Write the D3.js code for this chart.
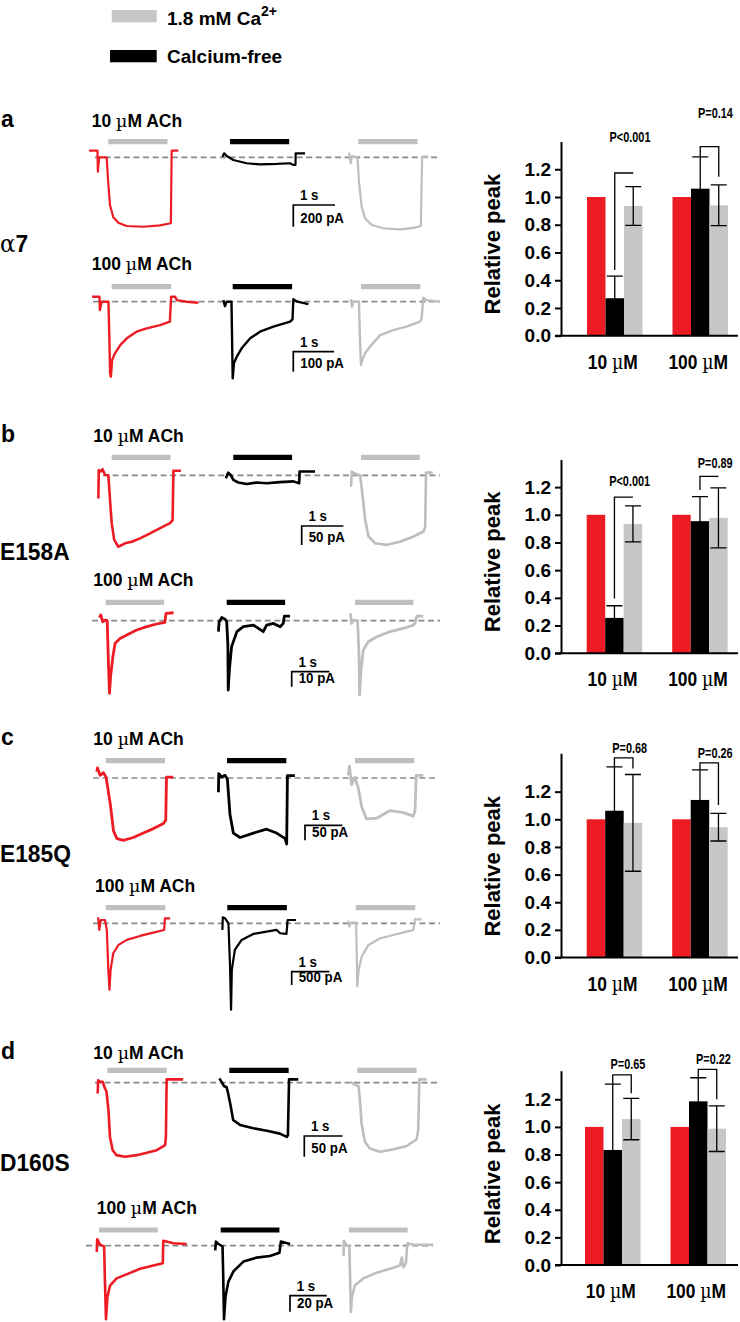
<!DOCTYPE html>
<html><head><meta charset="utf-8">
<script src="https://cdn.jsdelivr.net/npm/d3@7"></script>
<style>
body{margin:0;background:#fff;}
svg{display:block;font-family:"Liberation Sans",Arial,Helvetica,sans-serif;font-weight:bold;}
</style></head><body>
<svg id="fig" width="740" height="1322"></svg>
<script>
// ================= DATA =================
const legendLabels = ["1.8 mM Ca", "Calcium-free"];
const legendSup = "2+";
const panelLetters = ["a", "b", "c", "d"];
const receptors = ["α7", "E158A", "E185Q", "D160S"];
const concLabels = ["10 µM", "100 µM"];
const conditions = ["Ca", "free", "wash"];
const yTickValues = [0, 0.2, 0.4, 0.6, 0.8, 1.0, 1.2];
const yTitle = "Relative peak";

// relative peak [conc][condition] and error
const peakA = [[1.0, 0.27, 0.935], [1.0, 1.06, 0.94]];
const errA  = [[0, 0.16, 0.14], [0, 0.23, 0.147]];
const peakB = [[1.0, 0.255, 0.934], [1.0, 0.954, 0.978]];
const errB  = [[0, 0.088, 0.13], [0, 0.178, 0.217]];
const peakC = [[1.0, 1.062, 0.974], [1.0, 1.14, 0.943]];
const errC  = [[0, 0.317, 0.35], [0, 0.218, 0.10]];
const peakD = [[1.0, 0.833, 1.057], [1.0, 1.185, 0.987]];
const errD  = [[0, 0.477, 0.15], [0, 0.171, 0.165]];
const pLabelsA = ["P<0.001", "P=0.14"];
const pLabelsB = ["P<0.001", "P=0.89"];
const pLabelsC = ["P=0.68", "P=0.26"];
const pLabelsD = ["P=0.65", "P=0.22"];

// ACh application duration (s) and scale bar amplitude (pA) per recording row
const rowConc = ["10 µM ACh", "100 µM ACh", "10 µM ACh", "100 µM ACh", "10 µM ACh", "100 µM ACh", "10 µM ACh", "100 µM ACh"];
const appDur = [1.42, 1.46, 1.41, 1.55, 1.59, 1.58, 1.55, 1.6];
const scaleBarSec = 1;
const scaleBarPA = [200, 100, 50, 10, 50, 500, 50, 20];

// current traces: [time from ACh onset (s), current (pA)]
const trA10Ca   = [[-0.46,61],[-0.26,61],[-0.25,-133],[-0.22,0],[-0.04,0],[0,-240],[0.04,-440],[0.12,-553],[0.24,-603],[0.44,-633],[0.84,-640],[1.24,-627],[1.50,-608],[1.52,61],[1.68,61]];
const trA10Free = [[-0.18,6],[-0.14,37],[-0.08,12],[0.08,-25],[0.40,-55],[0.72,-65],[1.12,-61],[1.44,-55],[1.52,-71],[1.57,-71],[1.575,37],[1.80,37]];
const trA10Wash = [[-0.22,43],[-0.18,-55],[-0.15,12],[-0.02,0],[0.02,-240],[0.08,-455],[0.16,-562],[0.32,-624],[0.60,-654],[1.00,-664],[1.32,-651],[1.50,-633],[1.53,6],[1.68,6]];
const trA100Ca   = [[-0.48,25],[-0.30,25],[-0.29,-42],[-0.25,0],[-0.08,0],[-0.06,-158],[-0.04,-358],[-0.02,-375],[0.01,-292],[0.08,-258],[0.21,-217],[0.37,-183],[0.61,-150],[0.86,-133],[1.19,-117],[1.43,-100],[1.46,25],[1.56,25],[1.60,8],[1.84,0],[2.13,-5]];
const trA100Free = [[-0.23,8],[-0.19,-22],[-0.15,0],[-0.03,0],[0,-383],[0.03,-308],[0.10,-275],[0.22,-233],[0.43,-183],[0.67,-150],[1.00,-125],[1.41,-100],[1.47,-88],[1.49,12],[1.59,0],[1.86,-12]];
const trA100Wash = [[-0.25,12],[-0.22,-25],[-0.19,0],[-0.05,0],[-0.03,-158],[0,-317],[0.03,-292],[0.10,-258],[0.22,-225],[0.47,-167],[0.79,-142],[1.12,-125],[1.45,-100],[1.49,-83],[1.53,20],[1.61,8],[1.94,0]];

const trB10Ca   = [[-0.32,-61],[-0.31,14],[-0.26,10],[-0.22,16],[-0.16,1],[-0.08,0],[-0.04,-65],[0,-126],[0.06,-170],[0.16,-188],[0.32,-179],[0.48,-175],[0.68,-166],[0.92,-153],[1.16,-139],[1.40,-126],[1.46,-118],[1.48,12],[1.66,12]];
const trB10Free = [[-0.18,-8],[-0.12,7],[-0.06,1],[0,-12],[0.12,-19],[0.32,-23],[0.56,-19],[0.80,-21],[1.12,-18],[1.44,-16],[1.58,-21],[1.59,10],[1.96,10]];
const trB10Wash = [[-0.24,-30],[-0.22,10],[-0.14,4],[-0.02,0],[0.04,-56],[0.10,-117],[0.18,-161],[0.34,-179],[0.62,-183],[0.94,-175],[1.26,-161],[1.50,-148],[1.54,-135],[1.56,7],[1.72,7]];
const trB100Ca   = [[-0.17,2.2],[-0.13,3.8],[-0.08,-0.7],[-0.02,0.4],[0.04,0],[0.07,-26.2],[0.10,-48.4],[0.13,-37.3],[0.19,-24],[0.25,-15.1],[0.38,-11.8],[0.56,-9.5],[0.82,-6.2],[1.09,-4],[1.35,-2.2],[1.57,-1.1],[1.60,4.9],[1.80,5.3]];
const trB100Free = [[-0.22,-7.3],[-0.20,-0.7],[-0.13,2.2],[-0.04,0.9],[0,-0.7],[0.03,-15.1],[0.04,-46.2],[0.07,-32.9],[0.13,-17.3],[0.27,-7.3],[0.44,-4],[0.71,-2.9],[0.97,-7.3],[1.06,-2.9],[1.24,-1.8],[1.42,-4],[1.50,-1.8],[1.53,3.1],[1.68,3.1]];
const trB100Wash = [[-0.12,4.9],[-0.09,-1.8],[-0.04,0.4],[0.07,0],[0.11,-26.2],[0.12,-49.5],[0.16,-32.9],[0.22,-19.5],[0.35,-14],[0.58,-10.7],[0.93,-7.3],[1.28,-5.1],[1.55,-2.9],[1.59,-1.8],[1.64,3.1],[1.81,3.1]];

const trC10Ca   = [[-0.24,21],[-0.22,34],[-0.15,9],[-0.06,18],[0.01,3],[0.12,-85],[0.21,-179],[0.30,-205],[0.47,-211],[0.74,-201],[1.01,-186],[1.28,-171],[1.55,-154],[1.61,-142],[1.63,3],[1.81,3]];
const trC10Free = [[-0.23,-48],[-0.22,15],[-0.14,3],[-0.05,9],[0.01,-4],[0.08,-123],[0.17,-186],[0.35,-201],[0.71,-186],[1.06,-173],[1.33,-186],[1.56,-205],[1.60,-223],[1.62,8],[1.82,8]];
const trC10Wash = [[-0.18,9],[-0.15,40],[-0.09,-23],[0,3],[0.09,-35],[0.18,-98],[0.31,-138],[0.58,-136],[0.94,-110],[1.30,-117],[1.56,-129],[1.61,-110],[1.64,9],[1.83,9]];
const trC100Ca   = [[-0.20,225],[-0.17,-250],[-0.13,125],[-0.02,125],[0.03,-250],[0.07,-1750],[0.10,-2500],[0.13,-1750],[0.20,-1125],[0.34,-813],[0.56,-625],[0.91,-475],[1.26,-350],[1.55,-250],[1.57,188],[1.71,188]];
const trC100Free = [[-0.13,-250],[-0.12,225],[-0.06,188],[0.03,0],[0.07,-1500],[0.10,-3250],[0.12,-1750],[0.20,-1000],[0.38,-625],[0.69,-400],[1.04,-313],[1.31,-250],[1.40,-375],[1.57,-400],[1.60,125],[1.82,125]];
const trC100Wash = [[-0.20,100],[-0.17,-125],[-0.13,25],[0.01,25],[0.03,-1250],[0.04,-2375],[0.08,-1750],[0.16,-1250],[0.34,-813],[0.65,-563],[1.00,-438],[1.35,-313],[1.53,-250],[1.57,150],[1.75,150]];

const trD10Ca   = [[-0.25,-26],[-0.24,6],[-0.19,2],[-0.12,2],[-0.06,-14],[-0.02,-22],[0.03,-66],[0.07,-131],[0.14,-163],[0.24,-175],[0.46,-179],[0.77,-175],[1.03,-169],[1.29,-163],[1.51,-151],[1.53,-131],[1.55,8],[1.98,8]];
const trD10Free = [[-0.26,10],[-0.20,2],[-0.14,-8],[-0.07,-11],[-0.03,-26],[0.04,-58],[0.10,-90],[0.28,-102],[0.63,-110],[0.98,-116],[1.32,-123],[1.50,-131],[1.53,-127],[1.56,8],[1.80,8]];
const trD10Wash = [[-0.19,2],[-0.10,-3],[0.03,-8],[0.07,-42],[0.11,-98],[0.20,-143],[0.33,-159],[0.59,-167],[0.94,-161],[1.29,-153],[1.55,-137],[1.59,-114],[1.62,8],[1.81,8]];
const trD100Ca   = [[-0.06,-8],[-0.05,8],[0.03,1],[0.14,-1],[0.16,-41],[0.19,-92],[0.23,-64],[0.30,-50],[0.48,-41],[0.75,-36],[1.12,-29],[1.48,-25],[1.74,-22],[1.75,6],[2.03,3],[2.39,2]];
const trD100Free = [[-0.15,-6],[-0.13,5],[-0.06,2],[0.05,-1],[0.07,-41],[0.09,-92],[0.13,-64],[0.21,-45],[0.35,-32],[0.62,-20],[0.98,-15],[1.34,-13],[1.60,-9],[1.64,5],[1.89,2]];
const trD100Wash = [[-0.15,-13],[-0.14,6],[-0.06,0],[0.01,-1],[0.03,-41],[0.05,-83],[0.08,-64],[0.16,-50],[0.39,-41],[0.75,-34],[1.12,-29],[1.39,-25],[1.44,-15],[1.48,-27],[1.55,-22],[1.59,3],[1.75,1],[2.30,1]];

// ================= LAYOUT / STYLE =================
const RED = "#ED1C24", GRAY_TR = "#BDBEC0", GRAY_BAR = "#C6C7C9", APP_GRAY = "#BEBFC1";
const condColor = [RED, "#000", GRAY_TR];
const barColor = [RED, "#000", GRAY_BAR];

const traceRows = [
  [trA10Ca, trA10Free, trA10Wash], [trA100Ca, trA100Free, trA100Wash],
  [trB10Ca, trB10Free, trB10Wash], [trB100Ca, trB100Free, trB100Wash],
  [trC10Ca, trC10Free, trC10Wash], [trC100Ca, trC100Free, trC100Wash],
  [trD10Ca, trD10Free, trD10Wash], [trD100Ca, trD100Free, trD100Wash]
];
const traceWidth = [2.2, 2.4, 2.6, 2.8, 2.8, 2.2, 2.6, 2.6];
const rowLayout = [
  {lx:91.7, ly:126.7, barY:141.7, x0:[108.3,230,358.3], dashY:157.3, dashX:[95,440], pxps:41.7, sbX:293.3, sbY:205, sbPx:21.7},
  {lx:91.7, ly:270,   barY:286.7, x0:[111.7,232.7,361], dashY:301.7, dashX:[93,440], pxps:40.7, sbX:293.3, sbY:351.7, sbPx:20},
  {lx:93.3, ly:441.7, barY:457.3, x0:[111.7,233.3,361], dashY:475.3, dashX:[103,440], pxps:41.7, sbX:301.7, sbY:526, sbPx:19},
  {lx:93.3, ly:586,   barY:602.3, x0:[105.7,226.7,355], dashY:620.7, dashX:[92,440], pxps:37.7, sbX:291.7, sbY:671.7, sbPx:15},
  {lx:93.3, ly:745,   barY:760.7, x0:[105.7,227,355],   dashY:778,   dashX:[93,437], pxps:37.3, sbX:305, sbY:825.4, sbPx:14.8},
  {lx:95,   ly:891.7, barY:907.7, x0:[105.7,227.3,355.7], dashY:923.3, dashX:[93,440], pxps:37.7, sbX:291.7, sbY:971.7, sbPx:13.3},
  {lx:93.3, ly:1059.3, barY:1070.3, x0:[107.3,229.3,357.3], dashY:1082.7, dashX:[95,440], pxps:38.3, sbX:304.3, sbY:1136, sbPx:20.7},
  {lx:96.7, ly:1214.4, barY:1230, x0:[99,220.7,349], dashY:1245.6, dashX:[86,433], pxps:36.7, sbX:290, sbY:1295.7, sbPx:16}
];
const letterY = [126.7, 441.7, 745, 1059.3];
const receptorY = [252, 560, 862, 1171];

const chartPeaks = [peakA, peakB, peakC, peakD];
const chartErrs = [errA, errB, errC, errD];
const chartP = [pLabelsA, pLabelsB, pLabelsC, pLabelsD];
const chartLayout = [
  {base:335.7, unit:138.7, top:1.40, bx:587},
  {base:653.2, unit:138.4, top:1.40, bx:586.7},
  {base:957.5, unit:138.2, top:1.478, bx:586.7},
  {base:1265,  unit:138.1, top:1.407, bx:585}
];
const bracketLayout = [
  [{yH:1.173, y1:0.474, y2:null, ly:1.435}, {yH:1.363, y1:1.29, y2:1.146, ly:1.608}],
  [{yH:1.128, y1:0.395, y2:null, ly:1.246}, {yH:1.277, y1:1.179, y2:null, ly:1.375}],
  [{yH:1.444, y1:1.379, y2:1.367, ly:1.517}, {yH:1.408, y1:1.358, y2:1.103, ly:1.478}],
  [{yH:1.376, y1:1.31, y2:1.243, ly:1.455}, {yH:1.417, y1:1.356, y2:1.2, ly:1.492}]
];

// ================= DRAW =================
const svg = d3.select("#fig");

function txt(parent, x, y, str, size, o = {}) {
  const g = parent.append("g").attr("transform", `translate(${x},${y}) scale(${o.sx || 1},1)` + (o.rot ? ` rotate(${o.rot})` : ""));
  const t = g.append("text").attr("font-size", size).attr("fill", "#000")
    .attr("text-anchor", o.anchor || "start");
  if (o.dy) t.attr("dy", o.dy);
  str.split(/([µα])/).forEach(p => {
    if (!p) return;
    const s = t.append("tspan").text(p);
    if (p === "µ" || p === "α") s.attr("font-weight", "normal").attr("font-family", "'DejaVu Serif','Liberation Serif',serif");
  });
  return t;
}

// legend
svg.append("rect").attr("x", 111.7).attr("y", 10).attr("width", 45).attr("height", 12.3).attr("fill", GRAY_BAR);
const lt = txt(svg, 167, 25, legendLabels[0], 19);
lt.append("tspan").attr("dy", -9).attr("font-size", 14).text(legendSup);
svg.append("rect").attr("x", 110).attr("y", 50).attr("width", 46.7).attr("height", 12.3).attr("fill", "#000");
txt(svg, 167, 63.3, legendLabels[1], 19);

// panel letters & receptor names
panelLetters.forEach((l, i) => txt(svg, 1, letterY[i], l, 23));
receptors.forEach((r, i) => txt(svg, 0, receptorY[i], r, 24, {sx: 0.95}));

// traces
rowLayout.forEach((L, i) => {
  const g = svg.append("g");
  txt(g, L.lx, L.ly, rowConc[i], 17.5);
  g.append("line").attr("x1", L.dashX[0]).attr("x2", L.dashX[1]).attr("y1", L.dashY).attr("y2", L.dashY)
    .attr("stroke", "#8a8a8a").attr("stroke-width", 1.7).attr("stroke-dasharray", "6,3.6");
  traceRows[i].forEach((tr, c) => {
    const x = d3.scaleLinear().domain([0, 1]).range([L.x0[c], L.x0[c] + L.pxps]);
    const y = d3.scaleLinear().domain([0, -scaleBarPA[i]]).range([L.dashY, L.dashY + L.sbPx]);
    g.append("line").attr("x1", x(0)).attr("x2", x(appDur[i])).attr("y1", L.barY).attr("y2", L.barY)
      .attr("stroke", c === 1 ? "#000" : APP_GRAY).attr("stroke-width", 5.2);
    g.append("path").datum(tr)
      .attr("d", d3.line().x(d => x(d[0])).y(d => y(d[1])))
      .attr("fill", "none").attr("stroke", condColor[c]).attr("stroke-width", traceWidth[i])
      .attr("stroke-linejoin", "round");
  });
  const xs = d3.scaleLinear().domain([0, 1]).range([L.sbX, L.sbX + L.pxps]);
  const ys = d3.scaleLinear().domain([0, -scaleBarPA[i]]).range([L.sbY, L.sbY + L.sbPx]);
  g.append("path").attr("d", `M${xs(scaleBarSec)},${ys(0)}H${xs(0)}V${ys(-scaleBarPA[i])}`)
    .attr("fill", "none").attr("stroke", "#000").attr("stroke-width", 1.7);
  txt(g, L.sbX + 6.7, L.sbY - 5, scaleBarSec + " s", 14, {sx: 0.95});
  txt(g, L.sbX + 7, L.sbY + L.sbPx - 3.5, scaleBarPA[i] + " pA", 14, {sx: 0.95});
});

// bar charts
chartLayout.forEach((C, p) => {
  const g = svg.append("g");
  const y = d3.scaleLinear().domain([0, C.top]).range([C.base, C.base - C.unit * C.top]);
  const xg = d3.scaleBand().domain(concLabels).range([C.bx, C.bx + 141]).paddingInner(0.351).paddingOuter(0);
  const xc = d3.scaleBand().domain(conditions).range([0, xg.bandwidth()]).padding(0);
  const peaks = chartPeaks[p], errs = chartErrs[p];

  concLabels.forEach((cl, gi) => {
    conditions.forEach((cd, ci) => {
      const v = peaks[gi][ci];
      g.append("rect").attr("x", xg(cl) + xc(cd)).attr("width", xc.bandwidth())
        .attr("y", y(v)).attr("height", y(0) - y(v)).attr("fill", barColor[ci]);
    });
  });
  // error bars
  concLabels.forEach((cl, gi) => {
    conditions.forEach((cd, ci) => {
      const v = peaks[gi][ci], e = errs[gi][ci];
      if (!e) return;
      const cx = xg(cl) + xc(cd) + xc.bandwidth() / 2;
      const hw = 8;
      g.append("path").attr("d",
        `M${cx},${y(v - e)}V${y(v + e)}M${cx - hw},${y(v + e)}H${cx + hw}M${cx - hw},${y(v - e)}H${cx + hw}`)
        .attr("stroke", "#000").attr("stroke-width", 1.3).attr("fill", "none");
    });
  });
  // brackets + P labels
  concLabels.forEach((cl, gi) => {
    const B = bracketLayout[p][gi];
    const x1 = xg(cl) + xc("free") + xc.bandwidth() / 2;
    const x2 = xg(cl) + xc("wash") + xc.bandwidth() / 2;
    let d = `M${x1},${y(B.y1)}V${y(B.yH)}H${x2}`;
    if (B.y2 !== null) d += `V${y(B.y2)}`;
    g.append("path").attr("d", d).attr("stroke", "#000").attr("stroke-width", 1.3).attr("fill", "none");
    txt(g, (x1 + x2) / 2 + 6, y(B.ly), chartP[p][gi], 14, {sx: 0.78, anchor: "middle", dy: "0.36em"});
  });
  // axes
  const ax = g.append("g").attr("transform", "translate(561,0)")
    .call(d3.axisLeft(y).tickValues(yTickValues).tickFormat(d3.format(".1f")).tickSize(6).tickSizeOuter(0).tickPadding(4));
  ax.select(".domain").attr("stroke-width", 2);
  ax.selectAll(".tick line").attr("stroke-width", 2);
  ax.selectAll(".tick text").attr("font-size", 19).attr("font-weight", "bold")
    .attr("font-family", "'Liberation Sans',Arial,sans-serif").attr("fill", "#000");
  g.append("line").attr("x1", 555).attr("x2", 738).attr("y1", y(0)).attr("y2", y(0))
    .attr("stroke", "#000").attr("stroke-width", 2);
  concLabels.forEach(cl => txt(g, xg(cl) + xg.bandwidth() / 2 - 2, y(0) + 33, cl, 20, {sx: 0.87, anchor: "middle"}));
  txt(g, 492, y(0.66), yTitle, 22, {sx: 1, rot: -90, anchor: "middle", dy: "0.35em"});
});
</script>
</body></html>
